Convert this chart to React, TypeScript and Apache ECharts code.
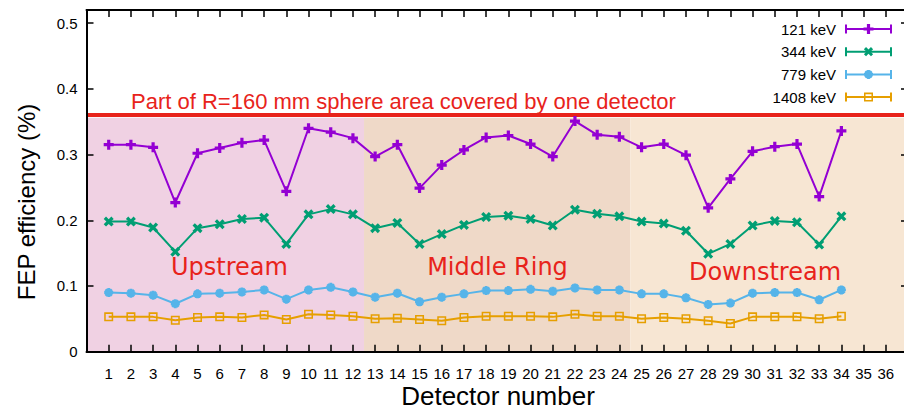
import React, { useEffect, useRef } from "react";
import * as echarts from "echarts";

// Detector numbers and full-energy-peak efficiencies (%) per gamma line
const detectors = [
  1, 2, 3, 4, 5, 6, 7, 8, 9, 10, 11, 12, 13, 14, 15, 16, 17,
  18, 19, 20, 21, 22, 23, 24, 25, 26, 27, 28, 29, 30, 31, 32, 33, 34,
];
const eff121 = [
  0.315, 0.315, 0.311, 0.227, 0.302, 0.31, 0.318, 0.322, 0.244, 0.34, 0.334, 0.325,
  0.297, 0.315, 0.249, 0.284, 0.307, 0.326, 0.329, 0.316, 0.297, 0.351, 0.33, 0.327,
  0.311, 0.316, 0.299, 0.219, 0.263, 0.305, 0.312, 0.316, 0.236, 0.336,
];
const eff344 = [
  0.198, 0.198, 0.189, 0.152, 0.188, 0.194, 0.202, 0.204, 0.164, 0.209, 0.217, 0.209,
  0.188, 0.196, 0.164, 0.179, 0.193, 0.205, 0.207, 0.202, 0.192, 0.216, 0.21, 0.206,
  0.198, 0.195, 0.184, 0.149, 0.164, 0.192, 0.199, 0.197, 0.163, 0.206,
];
const eff779 = [
  0.09, 0.089, 0.086, 0.073, 0.088, 0.089, 0.091, 0.094, 0.08, 0.094, 0.098, 0.091,
  0.083, 0.089, 0.076, 0.083, 0.088, 0.093, 0.093, 0.095, 0.092, 0.097, 0.094, 0.094,
  0.088, 0.088, 0.082, 0.072, 0.074, 0.089, 0.09, 0.09, 0.079, 0.094,
];
const eff1408 = [
  0.053, 0.053, 0.053, 0.048, 0.052, 0.053, 0.052, 0.056, 0.049, 0.057, 0.056, 0.054,
  0.05, 0.051, 0.049, 0.047, 0.052, 0.054, 0.054, 0.054, 0.053, 0.057, 0.054, 0.054,
  0.05, 0.052, 0.05, 0.047, 0.043, 0.053, 0.053, 0.053, 0.05, 0.054,
];
const seriesNames = ["121 keV", "344 keV", "779 keV", "1408 keV"];
const seriesValues = [eff121, eff344, eff779, eff1408];

// Detector rings along the beam (detector-number ranges)
const regionNames = ["Upstream", "Middle Ring", "Downstream"];
const regionFrom = [0, 12.5, 24.5];
const regionTo = [12.5, 24.5, 37];

// Fraction of the R=160 mm sphere seen by one detector (%)
const sphereCoverage = 0.356;
const coverageText = "Part of R=160 mm sphere area covered by one detector";

// Axis ranges
const xMin = 0;
const xMax = 37;
const yMin = 0;
const yMax = 0.52;

// Styling
const lineColors = ["#9400d3", "#009e73", "#56b4e9", "#e69f00"];
const regionColors = ["#f0d1e3", "#efd9c8", "#f7e6d3"];
const red = "#e8231b";
const SANS = "'Liberation Sans', Arial, Helvetica, sans-serif";
const DEJAVU = "'DejaVu Sans', sans-serif";

// Marker shapes (centred on the origin)
const plusD = "M-1.6,-5H1.6V-1.6H5V1.6H1.6V5H-1.6V1.6H-5V-1.6H-1.6Z";
const crossD =
  "M2.47,-4.6L4.6,-2.47L2.12,0L4.6,2.47L2.47,4.6L0,2.12L-2.47,4.6L-4.6,2.47L-2.12,0L-4.6,-2.47L-2.47,-4.6L0,-2.12Z";
const starD = plusD + " " + crossD;
const squareD = "M-5,-5H5V5H-5Z M-3.3,-3.3V3.3H3.3V-3.3Z";

const markerPaths = [plusD, crossD, starD, squareD];
const markerShapeNames = ["mkPlus", "mkCross", "mkStar", "mkSquare"];
const markerSizes = [10, 10, 9, 9];
markerPaths.forEach((d, i) => {
  echarts.graphic.registerShape(markerShapeNames[i], echarts.graphic.extendPath(d, {}));
});

// Canvas is a little wider than the page so the right frame edge sits just off-screen
const VIEW_W = 904;
const CANVAS_W = 912;
const CANVAS_H = 414;
const GRID_LEFT = 86.5;
const GRID_TOP = 10;
const GRID_RIGHT = 4;
const GRID_BOTTOM = 62.3;

function buildLegend() {
  const items: any[] = [];
  const x0 = 846;
  const x1 = 891;
  const xm = (x0 + x1) / 2;
  seriesNames.forEach((name, i) => {
    const y = 29 + i * 22.7;
    const c = lineColors[i];
    items.push({
      type: "text",
      x: 836,
      y,
      style: {
        text: name,
        font: `15px ${SANS}`,
        fill: "#000",
        textAlign: "right",
        textVerticalAlign: "middle",
      },
    });
    items.push({
      type: "line",
      shape: { x1: x0, y1: y, x2: x1, y2: y },
      style: { stroke: c, lineWidth: 2 },
    });
    items.push({
      type: "line",
      shape: { x1: x0, y1: y - 4.5, x2: x0, y2: y + 4.5 },
      style: { stroke: c, lineWidth: 2 },
    });
    items.push({
      type: "line",
      shape: { x1: x1, y1: y - 4.5, x2: x1, y2: y + 4.5 },
      style: { stroke: c, lineWidth: 2 },
    });
    const s = markerSizes[i] / 10;
    items.push({
      type: markerShapeNames[i],
      x: xm,
      y,
      scaleX: s,
      scaleY: s,
      style: { fill: c },
    });
  });
  return items;
}

export default function App() {
  const ref = useRef<HTMLDivElement>(null);

  useEffect(() => {
    if (!ref.current) return;
    const chart = echarts.init(ref.current, null, { renderer: "svg" });

    const series: any[] = seriesNames.map((name, i) => ({
      type: "line",
      name,
      data: detectors.map((d, k) => [d, seriesValues[i][k]]),
      symbol: "path://" + markerPaths[i],
      symbolSize: markerSizes[i],
      showAllSymbol: true,
      lineStyle: { color: lineColors[i], width: 2 },
      itemStyle: { color: lineColors[i] },
      emphasis: { disabled: true },
      silent: true,
      z: 3 + (3 - i),
    }));

    series[0].markArea = {
      silent: true,
      label: { show: false },
      data: regionNames.map((_, i) => [
        { xAxis: regionFrom[i], yAxis: yMin, itemStyle: { color: regionColors[i], opacity: 1 } },
        { xAxis: regionTo[i], yAxis: sphereCoverage },
      ]),
    };
    series[0].markLine = {
      silent: true,
      symbol: ["none", "none"],
      label: { show: false },
      lineStyle: { color: red, width: 4, type: "solid" },
      data: [{ yAxis: sphereCoverage }],
    };

    const axisCommon = {
      axisLine: { show: true, onZero: false, lineStyle: { color: "#000", width: 2 } },
      axisTick: { show: true, inside: true, length: 7, lineStyle: { color: "#000", width: 1.5 } },
      splitLine: { show: false },
      z: 10,
    };

    const xLabel = (v: number) => (v >= 1 && v <= 36 ? String(v) : "");
    const yLabel = (v: number) => (v > 0.505 ? "" : String(Math.round(v * 10) / 10));

    const regionLabelPos = [
      [229.5, 266.7],
      [497.5, 266.7],
      [765, 271.7],
    ];

    chart.setOption({
      animation: false,
      grid: { left: GRID_LEFT, top: GRID_TOP, right: GRID_RIGHT, bottom: GRID_BOTTOM, containLabel: false },
      xAxis: [
        {
          type: "value",
          min: xMin,
          max: xMax,
          interval: 1,
          position: "bottom",
          ...axisCommon,
          axisLabel: {
            formatter: xLabel,
            fontFamily: SANS,
            fontSize: 15,
            color: "#000",
            margin: 14,
            showMinLabel: true,
            showMaxLabel: true,
          },
        },
        {
          type: "value",
          min: xMin,
          max: xMax,
          interval: 1,
          position: "top",
          ...axisCommon,
          axisLabel: { show: false },
        },
      ],
      yAxis: [
        {
          type: "value",
          min: yMin,
          max: yMax,
          interval: 0.1,
          position: "left",
          ...axisCommon,
          axisLabel: {
            formatter: yLabel,
            fontFamily: SANS,
            fontSize: 15,
            color: "#000",
            margin: 9,
          },
        },
        {
          type: "value",
          min: yMin,
          max: yMax,
          interval: 0.1,
          position: "right",
          ...axisCommon,
          axisLabel: { show: false },
        },
      ],
      series,
      graphic: [
        {
          type: "text",
          x: 131,
          y: 101,
          z: 20,
          style: {
            text: coverageText,
            font: `22px ${SANS}`,
            fill: red,
            textAlign: "left",
            textVerticalAlign: "middle",
          },
        },
        ...regionNames.map((name, i) => ({
          type: "text",
          x: regionLabelPos[i][0],
          y: regionLabelPos[i][1],
          z: 20,
          style: {
            text: name,
            font: `24px ${DEJAVU}`,
            fill: red,
            textAlign: "center",
            textVerticalAlign: "middle",
          },
        })),
        {
          type: "text",
          x: 498,
          y: 396,
          z: 20,
          style: {
            text: "Detector number",
            font: `26px ${SANS}`,
            fill: "#000",
            textAlign: "center",
            textVerticalAlign: "middle",
          },
        },
        {
          type: "text",
          x: 26,
          y: 202,
          rotation: Math.PI / 2,
          z: 20,
          style: {
            text: "FEP efficiency (%)",
            font: `24px ${SANS}`,
            fill: "#000",
            textAlign: "center",
            textVerticalAlign: "middle",
          },
        },
        ...buildLegend(),
      ],
    });

    return () => chart.dispose();
  }, []);

  return (
    <div
      style={{
        position: "absolute",
        left: 0,
        top: 0,
        width: VIEW_W,
        height: CANVAS_H,
        overflow: "hidden",
        background: "#fff",
      }}
    >
      <div ref={ref} style={{ width: CANVAS_W, height: CANVAS_H }} />
    </div>
  );
}
